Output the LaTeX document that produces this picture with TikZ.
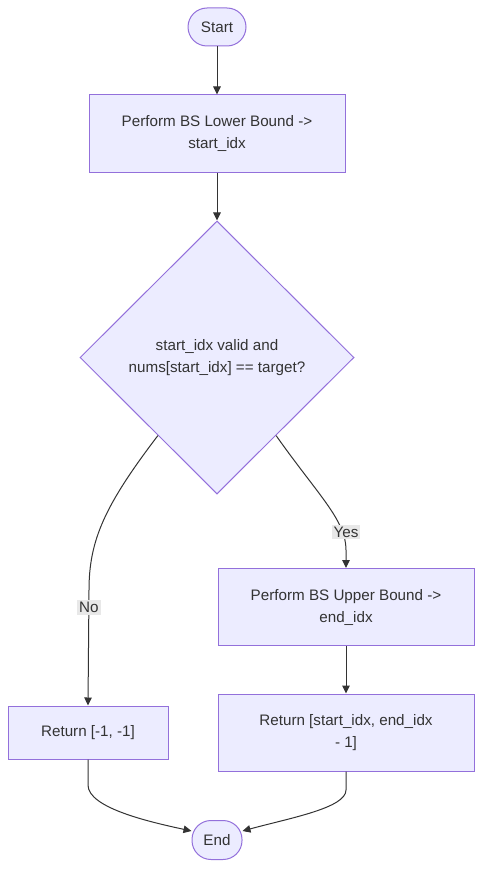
\documentclass[tikz,border=0pt]{standalone}
\usepackage{fontspec}
\setmainfont{Liberation Sans}
\usetikzlibrary{shapes.geometric,arrows.meta,calc}
\definecolor{nfill}{HTML}{ECECFF}
\definecolor{nstroke}{HTML}{9370DB}
\definecolor{tcol}{HTML}{333333}
\definecolor{lblbg}{HTML}{E8E8E8}
\tikzset{
  base/.style={draw=nstroke, fill=nfill, line width=1pt, text=tcol, font=\fontsize{15.2}{22}\selectfont, inner sep=0pt, align=center},
  procbox/.style={base, rectangle, minimum width=256pt, minimum height=77pt},
  term/.style={base, rectangle, rounded corners=19pt, minimum height=38pt},
  decision/.style={base, diamond, aspect=1, minimum width=274pt, minimum height=273pt},
  conn/.style={draw=tcol, line width=1pt, -{Triangle[length=8pt,width=7.5pt]}},
  lbl/.style={fill=lblbg, text=tcol, font=\fontsize{15.2}{17}\selectfont, inner sep=2pt}
}
\begin{document}
\begin{tikzpicture}[x=1pt,y=-1pt]
\useasboundingbox (0,0) rectangle (490,880);
\node[term, minimum width=58pt] (start) at (217,27) {Start};
\node[procbox] (lower) at (217,133.5) {Perform BS Lower Bound ->\\start\_idx};
\node[decision] (dec) at (217,357.5) {start\_idx valid and\\nums[start\_idx] == target?};
\node[procbox] (upper) at (346,607) {Perform BS Upper Bound ->\\end\_idx};
\node[procbox] (retr) at (346,732.5) {Return [start\_idx, end\_idx\\- 1]};
\node[procbox, minimum width=160pt, minimum height=53pt] (retl) at (88,732.5) {Return [-1, -1]};
\node[term, minimum width=50pt, minimum height=39pt] (end) at (217,840) {End};

\coordinate (decl) at ($(dec.west)!0.57!(dec.south)$);
\coordinate (decr) at ($(dec.east)!0.57!(dec.south)$);

\draw[conn] (start) -- (lower);
\draw[conn] (lower) -- (dec);
\draw[conn] (decl) .. controls (105,505) and (89,540) .. (89,590) -- (retl.north)
  node[lbl, pos=0.15] {No};
\draw[conn] (decr) .. controls (318,495) and (346,520) .. (346,550) -- (upper.north);
\node[lbl] (yes) at (346,532) {Yes};
\draw[conn] (upper) -- (retr);
\draw[conn] (retl.south) -- (88,785) .. controls (88,808) and (150,822) .. (end.west|-0,831) ;
\draw[conn] (retr.south) -- (346,790) .. controls (346,808) and (290,818) .. (end.east|-0,831);
\end{tikzpicture}
\end{document}
